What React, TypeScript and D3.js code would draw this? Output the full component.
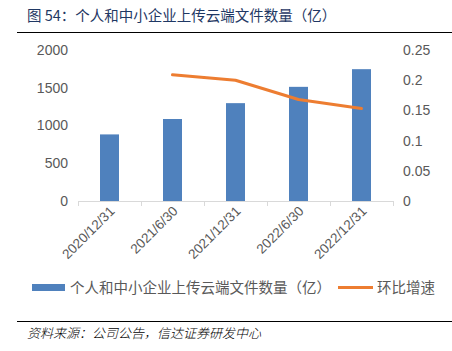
import React, { useEffect, useRef } from 'react';
import * as d3 from 'd3';

const categories = ['2020/12/31', '2021/6/30', '2021/12/31', '2022/6/30', '2022/12/31'];
const fileCounts = [882, 1086, 1296, 1512, 1746];
const growthRates: (number | null)[] = [null, 0.209, 0.2, 0.168, 0.153];
const leftTicks = [0, 500, 1000, 1500, 2000];
const rightTicks = [0, 0.05, 0.1, 0.15, 0.2, 0.25];

const TITLE = '图 54：个人和中小企业上传云端文件数量（亿）';
const SERIES_BAR = '个人和中小企业上传云端文件数量（亿）';
const SERIES_LINE = '环比增速';
const SOURCE = '资料来源：公司公告，信达证券研发中心';

const W = 452;
const H = 351;
const PLOT = { left: 78, right: 393, top: 50, bottom: 201 };
const BAR_COLOR = '#4f81bd';
const LINE_COLOR = '#ed7d31';
const TEXT_COLOR = '#595959';
const FONT = '"Liberation Sans", Arial, "Noto Sans CJK SC", sans-serif';
const CJK = '"Noto Sans CJK SC", sans-serif';

const App: React.FC = () => {
    const svgRef = useRef<SVGSVGElement | null>(null);

    useEffect(() => {
        const svg = d3.select(svgRef.current);
        svg.selectAll('*').remove();

        const x = d3.scaleBand()
            .domain(categories)
            .range([PLOT.left, PLOT.right]);

        const yLeft = d3.scaleLinear().domain([0, 2000]).range([PLOT.bottom, PLOT.top]);
        const yRight = d3.scaleLinear().domain([0, 0.25]).range([PLOT.bottom, PLOT.top]);

        // title + rules
        svg.append('text')
            .attr('x', 27)
            .attr('y', 21)
            .attr('font-size', 14.5)
            .attr('font-weight', 400)
            .attr('font-family', CJK)
            .attr('fill', '#1f3864')
            .text(TITLE);

        svg.append('line')
            .attr('x1', 17).attr('x2', W)
            .attr('y1', 32.5).attr('y2', 32.5)
            .attr('stroke', '#000').attr('stroke-width', 1);

        svg.append('line')
            .attr('x1', 17).attr('x2', W)
            .attr('y1', 321.5).attr('y2', 321.5)
            .attr('stroke', '#000').attr('stroke-width', 1);

        svg.append('text')
            .attr('x', 27)
            .attr('y', 338)
            .attr('font-size', 13)
            .attr('font-weight', 300)
            .attr('font-style', 'italic')
            .attr('font-family', CJK)
            .attr('fill', '#000')
            .text(SOURCE);

        // bars
        const barWidth = 19;
        svg.append('g')
            .selectAll('rect')
            .data(fileCounts)
            .enter()
            .append('rect')
            .attr('x', (_, i) => x(categories[i])! + x.bandwidth() / 2 - barWidth / 2)
            .attr('y', d => yLeft(d))
            .attr('width', barWidth)
            .attr('height', d => PLOT.bottom - yLeft(d))
            .attr('fill', BAR_COLOR);

        // category axis
        const axisG = svg.append('g');
        axisG.append('line')
            .attr('x1', PLOT.left).attr('x2', PLOT.right)
            .attr('y1', PLOT.bottom + 0.5).attr('y2', PLOT.bottom + 0.5)
            .attr('stroke', '#d9d9d9');
        const boundaries = categories.map(c => x(c)!).concat([PLOT.right]);
        axisG.selectAll('line.tick')
            .data(boundaries)
            .enter()
            .append('line')
            .attr('class', 'tick')
            .attr('x1', d => d + 0.5).attr('x2', d => d + 0.5)
            .attr('y1', PLOT.bottom).attr('y2', PLOT.bottom + 5)
            .attr('stroke', '#d9d9d9');

        axisG.selectAll('text')
            .data(categories)
            .enter()
            .append('text')
            .attr('transform', d => `translate(${x(d)! + x.bandwidth() / 2 + 6},${PLOT.bottom + 11}) rotate(-45)`)
            .attr('text-anchor', 'end')
            .attr('font-size', 13.5)
            .attr('font-family', FONT)
            .attr('fill', TEXT_COLOR)
            .text(d => d);

        // left axis labels
        svg.append('g')
            .selectAll('text')
            .data(leftTicks)
            .enter()
            .append('text')
            .attr('x', 68)
            .attr('y', d => yLeft(d))
            .attr('dy', '0.35em')
            .attr('text-anchor', 'end')
            .attr('font-size', 14)
            .attr('font-family', FONT)
            .attr('fill', TEXT_COLOR)
            .text(d => String(d));

        // right axis labels
        svg.append('g')
            .selectAll('text')
            .data(rightTicks)
            .enter()
            .append('text')
            .attr('x', 403)
            .attr('y', d => yRight(d))
            .attr('dy', '0.35em')
            .attr('text-anchor', 'start')
            .attr('font-size', 14)
            .attr('font-family', FONT)
            .attr('fill', TEXT_COLOR)
            .text(d => String(d));

        // growth line
        const line = d3.line<number | null>()
            .defined(d => d !== null)
            .x((_, i) => x(categories[i])! + x.bandwidth() / 2)
            .y(d => yRight(d as number));

        svg.append('path')
            .datum(growthRates)
            .attr('d', line)
            .attr('fill', 'none')
            .attr('stroke', LINE_COLOR)
            .attr('stroke-width', 3)
            .attr('stroke-linejoin', 'round')
            .attr('stroke-linecap', 'round');

        // legend
        const legend = svg.append('g');
        legend.append('rect')
            .attr('x', 32).attr('y', 284)
            .attr('width', 33).attr('height', 7)
            .attr('fill', BAR_COLOR);
        legend.append('text')
            .attr('x', 70).attr('y', 288)
            .attr('dy', '0.35em')
            .attr('font-size', 14.5)
            .attr('font-family', CJK)
            .attr('fill', TEXT_COLOR)
            .text(SERIES_BAR);
        legend.append('line')
            .attr('x1', 338).attr('x2', 373)
            .attr('y1', 287.5).attr('y2', 287.5)
            .attr('stroke', LINE_COLOR)
            .attr('stroke-width', 3);
        legend.append('text')
            .attr('x', 377).attr('y', 288)
            .attr('dy', '0.35em')
            .attr('font-size', 14.5)
            .attr('font-family', CJK)
            .attr('fill', TEXT_COLOR)
            .text(SERIES_LINE);
    }, []);

    return (
        <svg
            ref={svgRef}
            width={W}
            height={H}
            style={{ position: 'absolute', left: 0, top: 0, background: '#fff' }}
        ></svg>
    );
};

export default App;
